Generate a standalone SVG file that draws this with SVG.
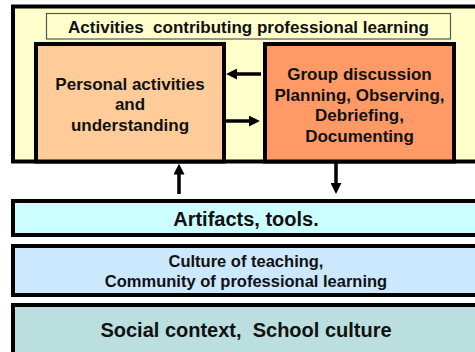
<svg xmlns="http://www.w3.org/2000/svg" width="475" height="352" viewBox="0 0 475 352">
  <style>
    .box { stroke: #000; stroke-width: 4; }
    .t { font-family: "Liberation Sans", Arial, sans-serif; font-weight: bold; fill: #111; text-anchor: middle; white-space: pre; }
    .conn { stroke: #000; stroke-width: 3.5; fill: none; marker-end: url(#arrow); }
  </style>
  <defs>
    <marker id="arrow" viewBox="0 0 10 10" markerWidth="11" markerHeight="11" markerUnits="userSpaceOnUse" refX="1" refY="5" orient="auto">
      <path d="M0,0 L10,5 L0,10 z" fill="#000"/>
    </marker>
  </defs>
  <rect width="475" height="352" fill="#fff"/>

  <g id="activities">
    <rect class="box" x="13" y="6.5" width="480" height="155" fill="#FFFFCC"/>
    <rect x="46.5" y="13.5" width="404" height="25.5" fill="#FFFFCC" stroke="#555" stroke-width="1.2"/>
    <text class="t" x="248.5" y="33" font-size="17" xml:space="preserve">Activities  contributing professional learning</text>
  </g>

  <g id="personal">
    <rect class="box" x="36" y="44" width="188" height="117.5" fill="#FFCC99"/>
    <text class="t" font-size="17" x="130" y="89.5">Personal activities</text>
    <text class="t" font-size="17" x="130" y="110">and</text>
    <text class="t" font-size="17" x="130" y="130.5">understanding</text>
  </g>

  <g id="group">
    <rect class="box" x="265" y="44" width="189" height="117.5" fill="#FF9966"/>
    <text class="t" font-size="17" x="359.5" y="79.5">Group discussion</text>
    <text class="t" font-size="17" x="359.5" y="100.5">Planning, Observing,</text>
    <text class="t" font-size="17" x="359.5" y="121">Debriefing,</text>
    <text class="t" font-size="17" x="359.5" y="141.5">Documenting</text>
  </g>

  <g id="artifacts">
    <rect class="box" x="13" y="201" width="480" height="34" fill="#CCFFFF"/>
    <text class="t" font-size="20" x="246" y="225.5">Artifacts, tools.</text>
  </g>

  <g id="culture">
    <rect class="box" x="13" y="246" width="480" height="49" fill="#CCE8FF"/>
    <text class="t" font-size="16.5" x="246" y="267.3">Culture of teaching,</text>
    <text class="t" font-size="16.5" x="246" y="287.3">Community of professional learning</text>
  </g>

  <g id="social">
    <rect class="box" x="13" y="305" width="480" height="60" fill="#BBDFDF"/>
    <text class="t" font-size="20" x="246" y="336.5" xml:space="preserve">Social context,  School culture</text>
  </g>

  <g id="connectors">
    <line class="conn" x1="261" y1="74" x2="236" y2="74"/>
    <line class="conn" x1="226" y1="121" x2="250" y2="121"/>
    <line class="conn" x1="179" y1="194" x2="179" y2="173.5"/>
    <line class="conn" x1="336" y1="163" x2="336" y2="184"/>
  </g>
</svg>
